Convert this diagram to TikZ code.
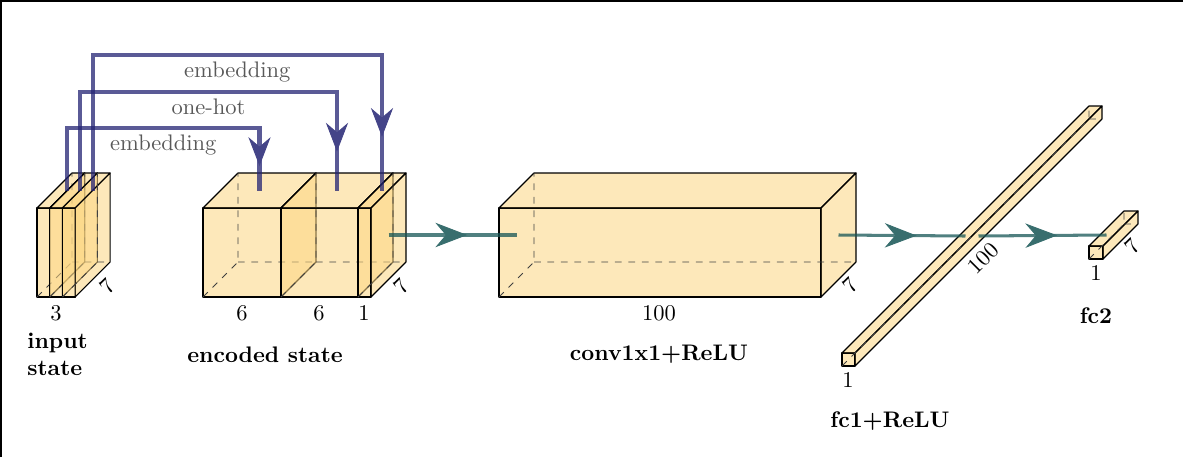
\documentclass[tikz,border=0pt]{standalone}
\usepackage{amsmath}
\usepackage{tikz}
\usetikzlibrary{calc}
\usetikzlibrary{arrows.meta}
\usetikzlibrary{decorations.markings}

\definecolor{boxfill}{RGB}{252,214,130}
\definecolor{hotblue}{RGB}{35,35,115}
\definecolor{flowteal}{RGB}{21,85,85}

\tikzset{
	face/.style={draw=black, line width=0.5pt, fill=boxfill, fill opacity=0.55, line join=round},
	hidden/.style={draw=black!75, line width=0.4pt, dashed},
	hotline/.style={draw=hotblue, opacity=0.75, line width=1.8pt},
	flow/.style={draw=flowteal, opacity=0.75, line width=1.35pt},
	tipmark/.style={decorate, decoration={markings, mark=at position 0.6 with {\arrow[xshift=2.2pt]{Stealth[length=17pt,width=13pt,inset=5.5pt,color=#1!85]}}}},
	hotlabel/.style={text=black!65, text opacity=1, inner sep=2pt, below},
	title/.style={font=\bfseries}
}

\newcommand{\layerbox}[6]{
	\coordinate (#1-west) at ({#2+#6/2},{#3-#5/2-#6/2});
	\coordinate (#1-east) at ({#2+#4+#6/2},{#3-#5/2-#6/2});
	\coordinate (#1-top) at ({#2+#4/2+#6/2},{#3-#5-#6/2});
	\coordinate (#1-ridge) at ({#2+#4+#6/2},{#3-#5-#6/2});
	\draw[face] (#2,#3) rectangle ++(#4,-#5);
	\draw[face] (#2,{#3-#5}) -- ++(#6,-#6) -- ++(#4,0) -- ++(-#6,#6) -- cycle;
	\draw[face] ({#2+#4},#3) -- ++(#6,-#6) -- ++(0,-#5) -- ++(-#6,#6) -- cycle;
	\draw[hidden] (#2,#3) -- ++(#6,-#6) -- ++(0,-#5) ++(0,#5) -- ++(#4,0);
}

\begin{document}
\begin{tikzpicture}[x=0.15625mm, y=-0.15625mm]
			\useasboundingbox (0,0) rectangle (1183,457);
			\draw[line width=0.8pt] (1,457) -- (1,1) -- (1183,1);
			
			\layerbox{in1}{37}{297}{12.7}{89}{35}
			\layerbox{in2}{49.7}{297}{12.7}{89}{35}
			\layerbox{in3}{62.4}{297}{12.7}{89}{35}
			
			\layerbox{enc1}{203}{297}{78}{89}{35}
			\layerbox{enc2}{281}{297}{77}{89}{35}
			\layerbox{enc3}{358}{297}{13}{89}{35}
			
			\layerbox{conv}{499}{297}{322}{89}{35}
			
			\layerbox{fca}{842}{366}{13}{13}{247}
			
			\layerbox{fcb}{1089}{259}{14}{13}{35}
			
			\node (d3) at (56,313) {3};
			\node (d7a) [rotate=45] at (107,286) {7};
			\node (d6a) at (242,313) {6};
			\node (d6b) at (319,313) {6};
			\node (d1a) at (364,313) {1};
			\node (d7b) [rotate=45] at (401,286) {7};
			\node (d100a) at (659,313) {100};
			\node (d7c) [rotate=45] at (850,285) {7};
			\node (d1b) at (848,380) {1};
			\node (d100b) [rotate=45] at (983,258) {100};
			\node (d1c) at (1096,273) {1};
			\node (d7d) [rotate=45] at (1132,246) {7};
			
			\node (tin) [title, align=left, anchor=west, inner sep=0pt] at (27,354) {input\\state};
			\node (tenc) [title] at (265,355) {encoded state};
			\node (tconv) [title] at (659,354) {conv1x1+ReLU};
			\node (tfca) [title] at (890,421) {fc1+ReLU};
			\node (tfcb) [title] at (1096,316) {fc2};
			
			\coordinate (hop1) at (259.5,128);
			\coordinate (hop2) at (337,92);
			\coordinate (hop3) at (382,55);
			
			\draw[hotline] (in1-ridge) |- (hop1) node[hotlabel, pos=0.75] (emb1) {embedding} -- (enc1-top);
			\draw[hotline, tipmark=hotblue] (hop1) -- (enc1-top);
			\draw[hotline] (in2-ridge) |- (hop2) node[hotlabel, pos=0.75] (onehot) {one-hot} -- (enc2-top);
			\draw[hotline, tipmark=hotblue] (hop2) -- (enc2-top);
			\draw[hotline] (in3-ridge) |- (hop3) node[hotlabel, pos=0.75] (emb2) {embedding} -- (enc3-top);
			\draw[hotline, tipmark=hotblue] (hop3) -- (enc3-top);
			
			\draw[flow] (enc3-east) -- (conv-west);
			\draw[flow, tipmark=flowteal] (enc3-east) -- (conv-west);
			\draw[flow] (conv-east) -- (fca-west);
			\draw[flow, tipmark=flowteal] (conv-east) -- (fca-west);
			\draw[flow] (fca-east) -- (fcb-west);
			\draw[flow, tipmark=flowteal] (fca-east) -- (fcb-west);
		\end{tikzpicture}
\end{document}
